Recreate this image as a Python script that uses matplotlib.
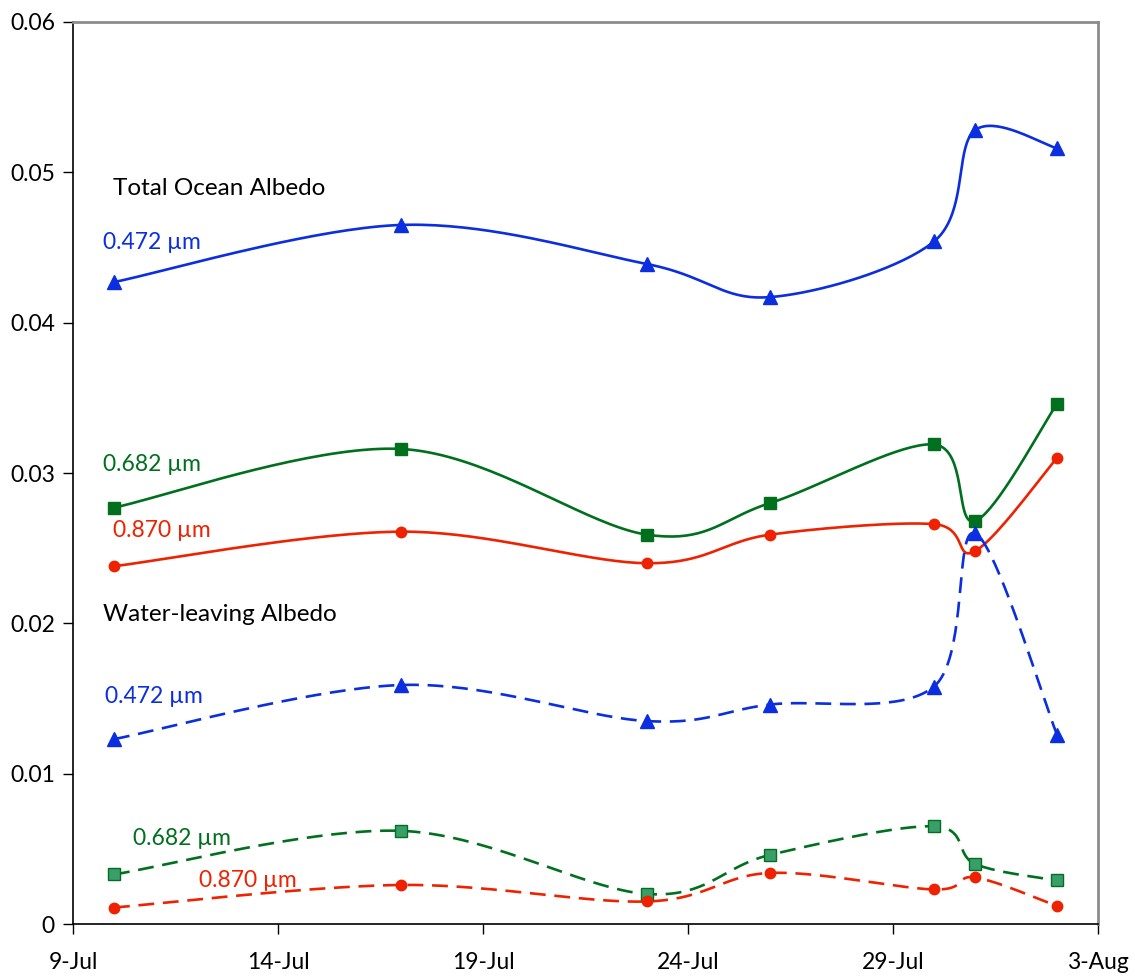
import numpy as np
import matplotlib
matplotlib.use("Agg")
import matplotlib.pyplot as plt
import matplotlib.dates as mdates
from datetime import datetime

plt.rcParams['font.family'] = ['Lato', 'DejaVu Sans']

# dates of the measurements
dates = ["2005-07-10", "2005-07-17", "2005-07-23", "2005-07-26",
         "2005-07-30", "2005-07-31", "2005-08-02"]

# total ocean albedo
total_472 = [0.0427, 0.0465, 0.0439, 0.0417, 0.0454, 0.0528, 0.0516]
total_682 = [0.0277, 0.0316, 0.0259, 0.0280, 0.0319, 0.0268, 0.0346]
total_870 = [0.0238, 0.0261, 0.0240, 0.0259, 0.0266, 0.0248, 0.0310]

# water-leaving albedo
water_472 = [0.0123, 0.0159, 0.0135, 0.0146, 0.0158, 0.0260, 0.0126]
water_682 = [0.0033, 0.0062, 0.0020, 0.0046, 0.0065, 0.0040, 0.0029]
water_870 = [0.0011, 0.0026, 0.0015, 0.0034, 0.0023, 0.0031, 0.0012]

xtick_dates = ["2005-07-09", "2005-07-14", "2005-07-19", "2005-07-24",
               "2005-07-29", "2005-08-03"]
xtick_labels = ["9-Jul", "14-Jul", "19-Jul", "24-Jul", "29-Jul", "3-Aug"]
yticks = [0, 0.01, 0.02, 0.03, 0.04, 0.05, 0.06]
ytick_labels = ["0", "0.01", "0.02", "0.03", "0.04", "0.05", "0.06"]

BLUE = "#0a2ee0"
GREEN = "#00701e"
RED = "#ee2200"


def smooth(ax, x, y, n=40):
    """Excel-like smoothed line, computed in screen space"""
    pts = ax.transData.transform(np.column_stack([x, y]))
    m = len(pts)
    out = []
    for i in range(m - 1):
        p0 = pts[max(i - 1, 0)]
        p1 = pts[i]
        p2 = pts[i + 1]
        p3 = pts[min(i + 2, m - 1)]
        c1 = p1 + (p2 - p0) / 6.0
        c2 = p2 - (p3 - p1) / 6.0
        t = np.linspace(0, 1, n)[:, None]
        seg = ((1 - t) ** 3 * p1 + 3 * (1 - t) ** 2 * t * c1
               + 3 * (1 - t) * t ** 2 * c2 + t ** 3 * p2)
        out.append(seg if i == 0 else seg[1:])
    out = np.vstack(out)
    d = ax.transData.inverted().transform(out)
    return d[:, 0], d[:, 1]


fig = plt.figure(figsize=(11.35, 9.77), dpi=100)
ax = fig.add_axes([0.0643, 0.0542, 0.9031, 0.9233])

xs = mdates.date2num([datetime.strptime(d, "%Y-%m-%d") for d in dates])
xt = mdates.date2num([datetime.strptime(d, "%Y-%m-%d") for d in xtick_dates])
ax.set_xlim(xt[0], xt[-1])
ax.set_ylim(0, 0.06)

series = [
    (total_472, BLUE, '^', 10, BLUE, '-'),
    (total_682, GREEN, 's', 8, GREEN, '-'),
    (total_870, RED, 'o', 7.5, RED, '-'),
    (water_472, BLUE, '^', 10, BLUE, '--'),
    (water_682, GREEN, 's', 8, "#3a9e6a", '--'),
    (water_870, RED, 'o', 7.5, RED, '--'),
]
for vals, col, mk, ms, face, ls in series:
    sx, sy = smooth(ax, xs, np.array(vals))
    line, = ax.plot(sx, sy, color=col, lw=1.9, zorder=2)
    if ls == '--':
        line.set_dashes((6, 3.3))
    ax.plot(xs, vals, linestyle='none', marker=mk, ms=ms, color=col,
            markerfacecolor=face, markeredgecolor=col, mew=1.0, zorder=3)

ax.set_xticks(xt)
ax.set_xticklabels(xtick_labels)
ax.set_yticks(yticks)
ax.set_yticklabels(ytick_labels)
ax.tick_params(axis='both', labelsize=16.5, length=7, width=1, direction='out',
               color='black')
ax.tick_params(axis='x', pad=13)
ax.tick_params(axis='y', pad=6)

for s in ['left', 'bottom']:
    ax.spines[s].set_color('black')
    ax.spines[s].set_linewidth(1.2)
for s in ['top', 'right']:
    ax.spines[s].set_color('#8c8c8c')
    ax.spines[s].set_linewidth(2)


def day(px):
    return xt[0] + (px - 73) / 41.0


def val(py):
    return (924 - py) / 150.3 * 0.01


labels = [
    ("Total Ocean Albedo", 113, 189, 'black', 17.5),
    ("0.472 µm", 103, 243, BLUE, 16.5),
    ("0.682 µm", 103, 465, GREEN, 16.5),
    ("0.870 µm", 113, 531, RED, 16.5),
    ("Water-leaving Albedo", 103, 615, 'black', 17.5),
    ("0.472 µm", 105, 697, BLUE, 16.5),
    ("0.682 µm", 133, 838, GREEN, 16.5),
    ("0.870 µm", 199, 880, RED, 16.5),
]
for txt, px, py, col, fs in labels:
    ax.text(day(px), val(py), txt, color=col, fontsize=fs,
            ha='left', va='center')

fig.savefig("out.png", dpi=100)
